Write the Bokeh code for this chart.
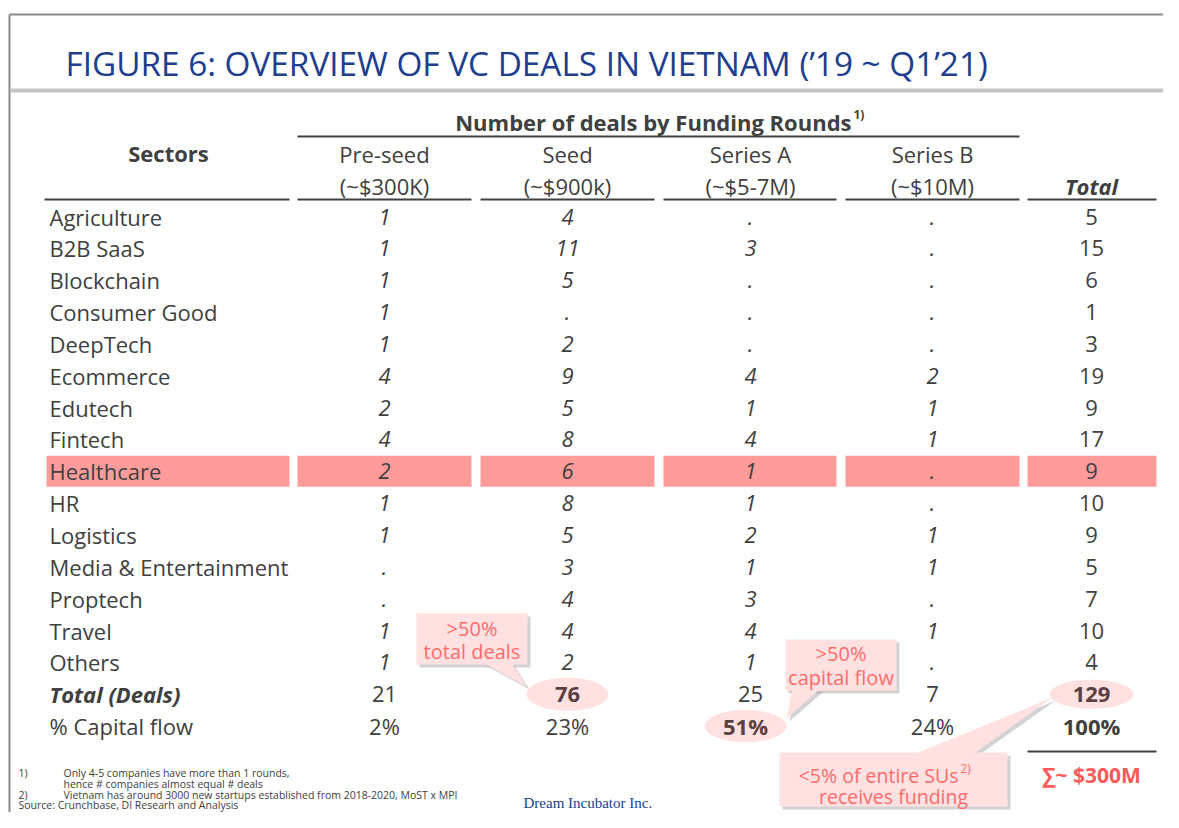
from bokeh.plotting import figure
from bokeh.models import Range1d
from bokeh.embed import file_html
from bokeh.resources import INLINE
from bokeh.core.properties import value

# ---------------- data ----------------
sectors = ["Agriculture", "B2B SaaS", "Blockchain", "Consumer Good", "DeepTech",
           "Ecommerce", "Edutech", "Fintech", "Healthcare", "HR", "Logistics",
           "Media & Entertainment", "Proptech", "Travel", "Others"]
pre_seed = [1, 1, 1, 1, 1, 4, 2, 4, 2, 1, 1, None, None, 1, 1]
seed = [4, 11, 5, None, 2, 9, 5, 8, 6, 8, 5, 3, 4, 4, 2]
series_a = [None, 3, None, None, None, 4, 1, 4, 1, 1, 2, 1, 3, 4, 1]
series_b = [None, None, None, None, None, 2, 1, 1, None, None, 1, 1, None, 1, None]
total = [5, 15, 6, 1, 3, 19, 9, 17, 9, 10, 9, 5, 7, 10, 4]

round_names = ["Pre-seed", "Seed", "Series A", "Series B"]
round_sizes = ["(~$300K)", "(~$900k)", "(~$5-7M)", "(~$10M)"]
total_deals = [21, 76, 25, 7, 129]
capital_flow = ["2%", "23%", "51%", "24%", "100%"]
highlight_sector = "Healthcare"

title = "FIGURE 6: OVERVIEW OF VC DEALS IN VIETNAM (\u201919 ~ Q1\u201921)"
footnotes = [
    ("1)", "Only 4-5 companies have more than 1 rounds,"),
    ("", "hence # companies almost equal # deals"),
    ("2)", "Vietnam has around 3000 new startups established from 2018-2020, MoST x MPI"),
]
source = "Source: Crunchbase, DI Researh and Analysis"

# ---------------- layout ----------------
TXT = "#404040"
PINK = "#FF9B9B"
CALL_FILL = "#FFE1E1"
CALL_TXT = "#FF6B6B"
TITLE_C = "#203D8E"
FONT = value("Open Sans")
FS = "22px"

p = figure(width=1163, height=812, x_range=Range1d(0, 1163), y_range=Range1d(812, 0),
           min_border=0, toolbar_location=None, output_backend="svg",
           x_axis_type=None, y_axis_type=None)
p.grid.visible = False
p.outline_line_color = None
p.background_fill_color = "white"

# frame
p.segment(x0=[9, 9], y0=[14, 14], x1=[1163, 9], y1=[14, 812], line_color="#8A8A8A", line_width=2)
p.segment(x0=[10], y0=[90], x1=[1163], y1=[90], line_color="#C4C4C4", line_width=4)

p.text(x=[65], y=[62], text=[title], text_font=FONT, text_font_size="33.3px",
       text_color=TITLE_C, text_baseline="middle", text_align="left")

col_x = [384, 567, 750, 932, 1091]
col_l = [297, 480, 663, 845, 1027]
col_r = [471, 654, 836, 1019, 1156]
row_y0 = 216
row_h = 31.85

# highlight row
hi = sectors.index(highlight_sector)
hy = row_y0 + hi * row_h
p.quad(left=[46] + col_l, right=[289] + col_r, top=[hy - 15.5] * 6, bottom=[hy + 15.5] * 6,
       fill_color=PINK, line_color=None)

# headers
p.text(x=[168], y=[152], text=["Sectors"], text_font=FONT, text_font_size=FS,
       text_font_style="bold", text_color=TXT, text_align="center", text_baseline="middle")
p.text(x=[851], y=[121], text=["Number of deals by Funding Rounds"], text_font=FONT,
       text_font_size=FS, text_font_style="bold", text_color=TXT,
       text_align="right", text_baseline="middle")
p.text(x=[853], y=[114], text=["1)"], text_font=FONT, text_font_size="12px",
       text_font_style="bold", text_color=TXT, text_align="left", text_baseline="middle")
p.segment(x0=[297], y0=[136], x1=[1019], y1=[136], line_color=TXT, line_width=1.8)
p.text(x=col_x[:4], y=[153] * 4, text=round_names, text_font=FONT, text_font_size=FS,
       text_color=TXT, text_align="center", text_baseline="middle")
p.text(x=col_x[:4], y=[185] * 4, text=round_sizes, text_font=FONT, text_font_size=FS,
       text_color=TXT, text_align="center", text_baseline="middle")
p.text(x=[col_x[4]], y=[185], text=["Total"], text_font=FONT, text_font_size=FS,
       text_font_style="bold italic", text_color=TXT, text_align="center", text_baseline="middle")
p.segment(x0=[44] + col_l, y0=[199] * 6, x1=[289] + col_r, y1=[199] * 6,
          line_color=TXT, line_width=1.8)

# body
ys = [row_y0 + i * row_h for i in range(len(sectors))]
p.text(x=[49] * len(sectors), y=ys, text=sectors, text_font=FONT, text_font_size=FS,
       text_color=TXT, text_align="left", text_baseline="middle")
fmt = lambda v: "." if v is None else str(v)
for cx, series in zip(col_x[:4], [pre_seed, seed, series_a, series_b]):
    p.text(x=[cx] * len(series), y=ys, text=[fmt(v) for v in series], text_font=FONT,
           text_font_size=FS, text_font_style="italic", text_color=TXT,
           text_align="center", text_baseline="middle")
p.text(x=[col_x[4]] * len(total), y=ys, text=[str(v) for v in total], text_font=FONT,
       text_font_size=FS, text_color=TXT, text_align="center", text_baseline="middle")

# totals rows
ty = row_y0 + len(sectors) * row_h
cy = ty + row_h

p.ellipse(x=[col_x[1], col_x[4]], y=[ty, ty], width=[82, 84], height=[33, 29],
          fill_color=CALL_FILL, line_color=None)
p.ellipse(x=[745], y=[cy], width=[82], height=[32], fill_color=CALL_FILL, line_color=None)

p.text(x=[49], y=[ty], text=["Total (Deals)"], text_font=FONT, text_font_size=FS,
       text_font_style="bold italic", text_color=TXT, text_align="left", text_baseline="middle")
p.text(x=[49], y=[cy], text=["% Capital flow"], text_font=FONT, text_font_size=FS,
       text_color=TXT, text_align="left", text_baseline="middle")
bold_tot = [False, True, False, False, True]
for cx, v, b in zip(col_x, total_deals, bold_tot):
    p.text(x=[cx], y=[ty], text=[str(v)], text_font=FONT, text_font_size=FS,
           text_font_style="bold" if b else "normal",
           text_color="#5A4040" if b else TXT, text_align="center", text_baseline="middle")
bold_cap = [False, False, True, False, True]
for i, (cx, v, b) in enumerate(zip(col_x, capital_flow, bold_cap)):
    xx = 745 if i == 2 else cx
    p.text(x=[xx], y=[cy], text=[v], text_font=FONT, text_font_size=FS,
           text_font_style="bold" if b else "normal",
           text_color="#5A4040" if i == 2 else TXT, text_align="center", text_baseline="middle")

# sum line + total capital
p.segment(x0=[1027], y0=[751], x1=[1156], y1=[751], line_color=TXT, line_width=1.8)
p.text(x=[1091], y=[774], text=["\u2211~ $300M"], text_font=FONT, text_font_size="21px",
       text_font_style="bold", text_color="#FF5A5A", text_align="center", text_baseline="middle")

# callouts
def callout(l, r, t, b, tail):
    sx, sy = 3, 3
    p.quad(left=[l + sx], right=[r + sx], top=[t + sy], bottom=[b + sy],
           fill_color="#9E9E9E", fill_alpha=0.45, line_color=None)
    p.patch(x=[q[0] + sx for q in tail], y=[q[1] + sy for q in tail],
            fill_color="#9E9E9E", fill_alpha=0.45, line_color=None)
    p.quad(left=[l], right=[r], top=[t], bottom=[b], fill_color=CALL_FILL, line_color=None)
    p.patch(x=[q[0] for q in tail], y=[q[1] for q in tail], fill_color=CALL_FILL, line_color=None)

callout(416, 527, 613, 664, [(482, 662), (511, 662), (526, 686)])
p.text(x=[471.5, 471.5], y=[628, 651], text=[">50%", "total deals"], text_font=FONT,
       text_font_size="20px", text_color=CALL_TXT, text_align="center", text_baseline="middle")

callout(785, 896, 639, 690, [(792, 688), (820, 688), (786, 718)])
p.text(x=[840.5, 840.5], y=[653, 677], text=[">50%", "capital flow"], text_font=FONT,
       text_font_size="20px", text_color=CALL_TXT, text_align="center", text_baseline="middle")

callout(779, 1007, 752, 806, [(913, 754), (972, 754), (1052, 697)])
p.text(x=[958], y=[775], text=["<5% of entire SUs"], text_font=FONT, text_font_size="19.5px",
       text_color=CALL_TXT, text_align="right", text_baseline="middle")
p.text(x=[960], y=[768], text=["2)"], text_font=FONT, text_font_size="12px",
       text_color=CALL_TXT, text_align="left", text_baseline="middle")
p.text(x=[893], y=[796], text=["receives funding"], text_font=FONT, text_font_size="19.5px",
       text_color=CALL_TXT, text_align="center", text_baseline="middle")

# footnotes
fy = [772, 783, 794]
p.text(x=[18] * 3, y=fy, text=[f[0] for f in footnotes], text_font=FONT, text_font_size="10.5px",
       text_color=TXT, text_align="left", text_baseline="middle")
p.text(x=[63] * 3, y=fy, text=[f[1] for f in footnotes], text_font=FONT, text_font_size="10.5px",
       text_color=TXT, text_align="left", text_baseline="middle")
p.text(x=[18], y=[804], text=[source], text_font=FONT, text_font_size="10.5px",
       text_color=TXT, text_align="left", text_baseline="middle")
p.text(x=[523], y=[810], text=["Dream Incubator Inc."], text_font=value("Liberation Serif"),
       text_font_size="15px", text_color=TITLE_C, text_align="left", text_baseline="bottom")

open("out.html", "w").write(file_html(p, INLINE))
